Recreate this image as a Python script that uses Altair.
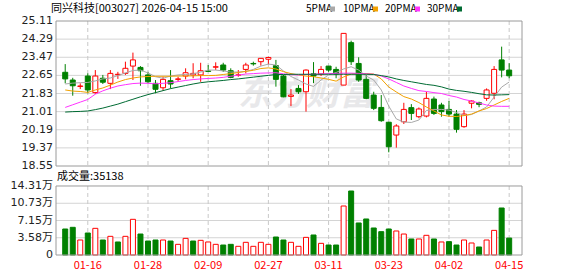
import altair as alt
import pandas as pd

# ---------------- data ----------------
title_text = "同兴科技[003027] 2026-04-15 15:00"
vol_title = "成交量:35138"

open_ = [22.79, 22.44, 22.15, 22.62, 21.87, 22.52, 22.29, 22.68, 22.74, 23.07,
         23.01, 22.67, 22.29, 22.09, 22.41, 22.47, 22.62, 22.67, 22.67, 22.85,
         23.02, 23.12, 22.86, 22.66, 22.92, 23.19, 23.27, 23.38, 23.09, 22.62,
         21.70, 22.06, 21.91, 22.72, 22.71, 23.07, 22.92, 22.21, 24.13, 23.19,
         22.47, 21.76, 21.20, 20.53, 19.95, 20.55, 21.19, 20.78, 20.81, 21.58,
         21.31, 21.11, 20.90, 20.33, 21.39, 21.41, 21.61, 21.84, 23.35, 22.89]
close = [22.49, 22.18, 22.17, 21.99, 22.62, 22.34, 22.74, 22.70, 22.97, 23.35,
         22.86, 22.36, 22.02, 22.47, 22.26, 22.49, 22.77, 22.74, 22.86, 22.83,
         23.04, 22.89, 22.56, 22.67, 23.12, 23.17, 23.42, 23.46, 22.47, 21.68,
         21.76, 21.91, 22.89, 22.62, 22.92, 22.89, 22.71, 24.55, 23.27, 22.44,
         21.61, 21.16, 20.60, 19.42, 20.36, 21.11, 20.93, 21.13, 21.61, 20.93,
         21.01, 20.90, 20.21, 20.90, 21.49, 21.34, 21.99, 22.92, 22.89, 22.63]
high = [23.16, 22.54, 22.29, 22.74, 22.89, 22.67, 22.89, 22.81, 23.27, 23.68,
        23.07, 22.81, 22.44, 22.59, 22.89, 22.59, 22.97, 23.20, 23.22, 23.12,
        23.24, 23.22, 22.97, 22.89, 23.22, 23.27, 23.42, 23.49, 23.35, 22.67,
        22.03, 22.21, 22.92, 23.25, 23.07, 23.07, 23.04, 24.55, 24.22, 23.47,
        22.67, 21.91, 21.76, 20.55, 20.44, 21.41, 21.35, 21.20, 21.91, 21.69,
        21.41, 21.49, 21.08, 21.08, 21.53, 21.46, 22.06, 23.07, 23.95, 23.20]
low = [22.29, 21.73, 22.03, 21.84, 21.81, 22.26, 22.03, 22.49, 22.67, 22.44,
       22.18, 22.29, 21.84, 21.96, 22.06, 22.36, 22.47, 22.52, 22.36, 22.81,
       22.89, 22.81, 22.52, 22.59, 22.74, 23.09, 23.09, 23.15, 22.14, 21.66,
       21.26, 21.81, 21.01, 22.30, 22.62, 22.81, 22.52, 22.21, 23.12, 22.36,
       21.57, 21.08, 20.55, 19.17, 19.38, 20.45, 20.63, 20.71, 20.75, 20.86,
       20.78, 20.78, 20.06, 20.28, 21.16, 21.21, 21.50, 21.57, 22.56, 22.52]

ma5 = [22.26, 22.30, 22.32, 22.33, 22.40, 22.49, 22.53, 22.64, 22.76, 22.87,
       22.89, 22.76, 22.59, 22.52, 22.62, 22.67, 22.69, 22.72, 22.80, 22.89,
       22.89, 22.85, 22.80, 22.80, 22.83, 22.92, 23.07, 23.16, 23.12, 22.85,
       22.60, 22.44, 22.26, 22.15, 22.44, 22.67, 22.78, 22.94, 23.04, 22.89,
       22.62, 22.44, 21.99, 21.26, 20.68, 20.54, 20.52, 20.63, 21.06, 21.11,
       21.11, 21.08, 20.97, 20.83, 20.88, 21.04, 21.22, 21.67, 22.12, 22.35]
ma10 = [21.99, 21.94, 21.92, 21.88, 21.99, 22.08, 22.21, 22.35, 22.46, 22.53,
        22.58, 22.60, 22.61, 22.61, 22.61, 22.62, 22.62, 22.63, 22.64, 22.64,
        22.65, 22.69, 22.73, 22.78, 22.83, 22.88, 22.96, 22.99, 22.94, 22.82,
        22.73, 22.67, 22.62, 22.59, 22.53, 22.47, 22.39, 22.58, 22.71, 22.73,
        22.73, 22.71, 22.49, 22.12, 21.90, 21.69, 21.58, 21.42, 21.22, 21.04,
        20.86, 20.80, 20.79, 20.83, 20.90, 21.04, 21.15, 21.31, 21.47, 21.61]
ma20 = [21.20, 21.32, 21.44, 21.56, 21.80, 21.95, 22.07, 22.17, 22.23, 22.28,
        22.30, 22.29, 22.27, 22.29, 22.32, 22.37, 22.42, 22.46, 22.49, 22.51,
        22.53, 22.56, 22.61, 22.66, 22.71, 22.73, 22.75, 22.76, 22.77, 22.72,
        22.68, 22.67, 22.69, 22.70, 22.72, 22.73, 22.74, 22.75, 22.75, 22.74,
        22.72, 22.70, 22.62, 22.49, 22.33, 22.17, 22.06, 21.96, 21.92, 21.87,
        21.83, 21.74, 21.67, 21.56, 21.49, 21.40, 21.31, 21.26, 21.25, 21.25]
ma30 = [20.99, 21.01, 21.02, 21.04, 21.10, 21.17, 21.26, 21.35, 21.46, 21.57,
        21.68, 21.78, 21.87, 21.96, 22.05, 22.12, 22.19, 22.26, 22.32, 22.36,
        22.39, 22.42, 22.46, 22.49, 22.53, 22.57, 22.61, 22.65, 22.69, 22.69,
        22.70, 22.70, 22.70, 22.70, 22.70, 22.70, 22.70, 22.70, 22.70, 22.70,
        22.70, 22.69, 22.64, 22.58, 22.49, 22.42, 22.36, 22.30, 22.24, 22.20,
        22.13, 22.03, 21.97, 21.93, 21.88, 21.82, 21.77, 21.76, 21.77, 21.78]

# volume in 万 (10k)
vol = [5.39, 5.74, 3.11, 4.56, 5.53, 3.11, 3.87, 2.70, 3.87, 7.40,
       4.35, 2.90, 3.11, 3.11, 2.90, 2.21, 3.45, 2.90, 3.04, 2.70,
       2.21, 2.07, 2.21, 1.80, 2.63, 1.80, 2.63, 2.21, 3.73, 3.11,
       2.63, 1.80, 3.66, 4.15, 2.42, 2.07, 2.07, 10.16, 13.27, 6.64,
       7.47, 5.60, 4.84, 5.39, 4.98, 4.35, 3.32, 3.32, 4.08, 3.32,
       2.70, 2.77, 2.07, 3.11, 2.49, 1.66, 3.11, 5.11, 9.75, 3.51]
vol_up = [0, 0, 1, 0, 1, 0, 1, 0, 1, 1, 0, 0, 0, 1, 0, 1, 1, 0, 1, 1,
          1, 0, 0, 1, 1, 1, 1, 1, 0, 0, 1, 1, 1, 0, 1, 0, 0, 1, 0, 0,
          0, 0, 0, 0, 1, 1, 0, 1, 1, 0, 1, 0, 0, 1, 1, 0, 1, 1, 0, 0]

price_ticks = [25.11, 24.29, 23.47, 22.65, 21.83, 21.01, 20.19, 19.37, 18.55]
vol_ticks = [14.31, 10.73, 7.15, 3.58, 0]
vol_tick_labels = ["14.31万", "10.73万", "7.15万", "3.58万", "0"]
date_idx = [3, 11, 19, 27, 35, 43, 51, 59]
date_labels = ["01-16", "01-28", "02-09", "02-27", "03-11", "03-23", "04-02", "04-15"]

ma_names = ["5PMA", "10PMA", "20PMA", "30PMA"]
ma_colors = ["#a9a9a9", "#f2a100", "#ff33ff", "#006b33"]

# ---------------- build ----------------
RED, GREEN = "#ff0000", "#008000"
W, H = 466, 234
n = len(close)
df = pd.DataFrame({
    "i": list(range(n)), "open": open_, "close": close, "high": high, "low": low,
    "ma5": ma5, "ma10": ma10, "ma20": ma20, "ma30": ma30, "vol": vol,
})
df["cc"] = [RED if c >= o else GREEN for o, c in zip(open_, close)]
df["bf"] = ["#ffffff" if c >= o else GREEN for o, c in zip(open_, close)]
df["vc"] = [RED if u else GREEN for u in vol_up]
df["vf"] = ["#ffffff" if u else GREEN for u in vol_up]
df["zero"] = 0.0

xs = alt.Scale(domain=[-0.56, 60.04], nice=False, zero=False)
ps = alt.Scale(domain=[14.524, 25.11], nice=False, zero=False)
vs = alt.Scale(domain=[0, 48.529], nice=False, zero=False)

X = alt.X("i:Q", scale=xs, axis=None)
base = alt.Chart(df)

pt = pd.DataFrame({"v": price_ticks, "lab": ["%.2f" % p for p in price_ticks]})
vt = pd.DataFrame({"v": vol_ticks, "lab": vol_tick_labels})
dt = pd.DataFrame({"i": date_idx, "lab": date_labels,
                   "ptop": price_ticks[0], "pbot": price_ticks[-1],
                   "vtop": vol_ticks[0], "vbot": vol_ticks[-1]})
box = pd.DataFrame({"ptop": [price_ticks[0]], "pbot": [price_ticks[-1]],
                    "vtop": [vol_ticks[0]], "vbot": [vol_ticks[-1]]})

GRID = "#d4d4d4"
BORDER = "#9a9a9a"
LABEL = "#222222"

watermark = alt.Chart(pd.DataFrame({"t": ["东方财富"]})).mark_text(
    font="Noto Sans CJK SC", fontSize=34, fontWeight="bold", fontStyle="italic",
    color="#e8e8ea", align="center", baseline="middle"
).encode(x=alt.value(250), y=alt.value(74), text="t:N")

pgrid = alt.Chart(pt.iloc[1:-1]).mark_rule(color=GRID, strokeWidth=1).encode(
    y=alt.Y("v:Q", scale=ps, axis=None), x=alt.value(0), x2=alt.value(W))
vgrid = alt.Chart(vt.iloc[1:-1]).mark_rule(color=GRID, strokeWidth=1).encode(
    y=alt.Y("v:Q", scale=vs, axis=None), x=alt.value(0), x2=alt.value(W))
dgrid_p = alt.Chart(dt).mark_rule(color="#c8c8c8", strokeDash=[4, 3]).encode(
    x=X, y=alt.Y("ptop:Q", scale=ps, axis=None), y2="pbot:Q")
dgrid_v = alt.Chart(dt).mark_rule(color="#c8c8c8", strokeDash=[4, 3]).encode(
    x=X, y=alt.Y("vtop:Q", scale=vs, axis=None), y2="vbot:Q")

plab = alt.Chart(pt).mark_text(font="DejaVu Sans", fontSize=11, color=LABEL,
                               align="right", baseline="middle").encode(
    x=alt.value(-3), y=alt.Y("v:Q", scale=ps, axis=None), text="lab:N")
vlab = alt.Chart(vt).mark_text(font="DejaVu Sans, Noto Sans CJK SC", fontSize=11, color=LABEL,
                               align="right", baseline="middle").encode(
    x=alt.value(-3), y=alt.Y("v:Q", scale=vs, axis=None), text="lab:N")
dlab = alt.Chart(dt).mark_text(font="Noto Sans CJK SC", fontSize=11, color="#ff0000",
                               align="center", baseline="middle").encode(
    x=X, y=alt.value(245), text="lab:N")

wick = base.mark_rule(strokeWidth=1).encode(
    x=X, y=alt.Y("low:Q", scale=ps, axis=None), y2="high:Q",
    color=alt.Color("cc:N", scale=None))
body = base.mark_bar(size=5, strokeWidth=1).encode(
    x=X, y=alt.Y("open:Q", scale=ps, axis=None), y2="close:Q",
    fill=alt.Fill("bf:N", scale=None), stroke=alt.Stroke("cc:N", scale=None))

ma_layers = []
for col, c in zip(["ma5", "ma10", "ma20", "ma30"], ma_colors):
    ma_layers.append(base.mark_line(strokeWidth=1, color=c).encode(
        x=X, y=alt.Y(f"{col}:Q", scale=ps, axis=None)))

vbars = base.mark_bar(size=5, strokeWidth=1).encode(
    x=X, y=alt.Y("vol:Q", scale=vs, axis=None), y2="zero:Q",
    fill=alt.Fill("vf:N", scale=None), stroke=alt.Stroke("vc:N", scale=None))

pbox = alt.Chart(box).mark_rect(fill="transparent", stroke=BORDER, strokeWidth=1).encode(
    x=alt.value(0), x2=alt.value(W), y=alt.Y("ptop:Q", scale=ps, axis=None), y2="pbot:Q")
vbox = alt.Chart(box).mark_rect(fill="transparent", stroke=BORDER, strokeWidth=1).encode(
    x=alt.value(0), x2=alt.value(W), y=alt.Y("vtop:Q", scale=vs, axis=None), y2="vbot:Q")

title = alt.Chart(pd.DataFrame({"t": [title_text]})).mark_text(
    font="Noto Sans CJK SC", fontSize=11, color="#000000", align="left", baseline="middle"
).encode(x=alt.value(-5), y=alt.value(-12), text="t:N")
vtitle = alt.Chart(pd.DataFrame({"t": [vol_title]})).mark_text(
    font="Noto Sans CJK SC", fontSize=11, color="#000000", align="left", baseline="middle"
).encode(x=alt.value(1), y=alt.value(156), text="t:N")

legend_layers = []
leg_x = [250, 287, 329, 371]
leg_sq = [276.5, 319.5, 361.5, 403.5]
for name, c, lx, sx in zip(ma_names, ma_colors, leg_x, leg_sq):
    legend_layers.append(alt.Chart(pd.DataFrame({"t": [name]})).mark_text(
        font="Noto Sans CJK SC", fontSize=10, color="#000000", align="left", baseline="middle"
    ).encode(x=alt.value(lx), y=alt.value(-12), text="t:N"))
    legend_layers.append(alt.Chart(pd.DataFrame({"t": [name]})).mark_square(
        size=25, color=c, opacity=1).encode(x=alt.value(sx), y=alt.value(-12)))

chart = alt.layer(
    watermark, pgrid, vgrid, dgrid_p, dgrid_v,
    wick, body, *ma_layers, vbars,
    pbox, vbox, plab, vlab, dlab, title, vtitle, *legend_layers
).resolve_scale(y="independent").properties(
    width=W, height=H,
    padding={"left": 56, "top": 21, "right": 56, "bottom": 21},
    autosize=alt.AutoSizeParams(type="none"),
    background="#ffffff",
).configure_view(stroke=None)

chart.save("out.html", embed_options={"renderer": "svg", "actions": False})
